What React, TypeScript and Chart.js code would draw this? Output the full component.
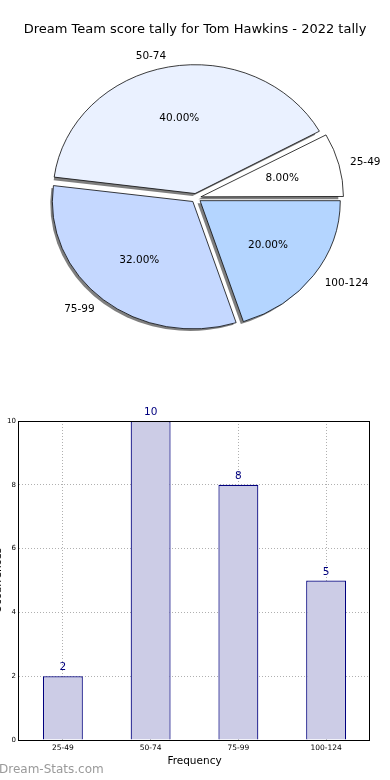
import React, { useEffect, useRef } from "react";
import { Chart, registerables } from "chart.js";

Chart.register(...registerables);

const FONT = "DejaVu Sans";

const TITLE = "Dream Team score tally for Tom Hawkins - 2022 tally";
// Pie slices in clockwise order starting at "east" (matplotlib draws them counter-clockwise)
const pieLabels = ["100-124", "75-99", "50-74", "25-49"];
const piePercents = [20, 32, 40, 8];
const pieColors = ["#b4d5ff", "#c5d8ff", "#eaf1ff", "#ffffff"];

const barCategories = ["25-49", "50-74", "75-99", "100-124"];
const barValues = [2, 10, 8, 5];
const yMin = 0;
const yMax = 10;
const yStep = 2;
const X_TITLE = "Frequency";
const Y_TITLE = "Occurrences";
const WATERMARK = "Dream-Stats.com";

const SY = 0.907; // vertical squash of the (non-equal-aspect) pie
const OFFSET = 5; // explode distance in px (Chart.js divides arc offset by 4)

const piePlugin = {
  id: "piePlugin",
  beforeDatasetsDraw(chart: any) {
    const ctx = chart.ctx;
    const arcs = chart.getDatasetMeta(0).data;
    const cx = arcs[0].x;
    const cy = arcs[0].y;
    // shadows
    ctx.save();
    ctx.translate(-2.5, 2.5);
    ctx.translate(cx, cy);
    ctx.scale(1, SY);
    ctx.translate(-cx, -cy);
    ctx.fillStyle = "rgba(0,0,0,0.5)";
    arcs.forEach((arc: any) => {
      const a = (arc.startAngle + arc.endAngle) / 2;
      const ox = arc.x + Math.cos(a) * OFFSET;
      const oy = arc.y + Math.sin(a) * OFFSET;
      ctx.beginPath();
      ctx.moveTo(ox, oy);
      ctx.arc(ox, oy, arc.outerRadius, arc.startAngle, arc.endAngle);
      ctx.closePath();
      ctx.fill();
    });
    ctx.restore();
    ctx.save();
    ctx.translate(cx, cy);
    ctx.scale(1, SY);
    ctx.translate(-cx, -cy);
  },
  afterDatasetsDraw(chart: any) {
    const ctx = chart.ctx;
    ctx.restore();
    const arcs = chart.getDatasetMeta(0).data;
    ctx.save();
    ctx.fillStyle = "#000";
    ctx.font = `10.5px "${FONT}"`;
    ctx.textBaseline = "middle";
    arcs.forEach((arc: any, i: number) => {
      const a = (arc.startAngle + arc.endAngle) / 2;
      const dx = Math.cos(a);
      const dy = Math.sin(a);
      const r = arc.outerRadius;
      const lr = OFFSET + 1.1 * r;
      const lx = arc.x + dx * lr;
      const ly = arc.y + dy * lr * SY;
      ctx.textAlign = dx > 0 ? "left" : "right";
      ctx.fillText(pieLabels[i], lx, ly);
      const pr = OFFSET + 0.6 * r;
      ctx.textAlign = "center";
      ctx.fillText(piePercents[i].toFixed(2) + "%", arc.x + dx * pr, arc.y + dy * pr * SY);
    });
    ctx.font = `13px "${FONT}"`;
    ctx.textAlign = "center";
    ctx.fillText(TITLE, 195, 30);
    ctx.restore();
  },
};

const barPlugin = {
  id: "barPlugin",
  afterDatasetsDraw(chart: any) {
    const ctx = chart.ctx;
    const meta = chart.getDatasetMeta(0);
    ctx.save();
    ctx.fillStyle = "#00007f";
    ctx.font = `10.5px "${FONT}"`;
    ctx.textAlign = "center";
    ctx.textBaseline = "middle";
    meta.data.forEach((bar: any, i: number) => {
      ctx.fillText(String(barValues[i]), bar.x, bar.y - 8.5);
    });
    ctx.restore();
  },
  afterDraw(chart: any) {
    const ctx = chart.ctx;
    const { left, top, right, bottom } = chart.chartArea;
    ctx.save();
    ctx.strokeStyle = "#000";
    ctx.lineWidth = 1;
    ctx.strokeRect(Math.round(left) - 0.5, Math.round(top) + 0.5, Math.round(right - left), Math.round(bottom - top));
    // y title (mostly clipped by the page edge, as in the reference)
    ctx.fillStyle = "#000";
    ctx.font = `10.5px "${FONT}"`;
    ctx.translate(0.5, (top + bottom) / 2);
    ctx.rotate(-Math.PI / 2);
    ctx.textAlign = "center";
    ctx.textBaseline = "alphabetic";
    ctx.fillText(Y_TITLE, 0, 0);
    ctx.restore();
    ctx.save();
    ctx.fillStyle = "#9a9a9a";
    ctx.font = `12px "${FONT}"`;
    ctx.textAlign = "left";
    ctx.textBaseline = "middle";
    ctx.fillText(WATERMARK, -1, 390);
    ctx.restore();
  },
};

export default function App() {
  const pieRef = useRef<HTMLCanvasElement>(null);
  const barRef = useRef<HTMLCanvasElement>(null);

  useEffect(() => {
    const pie = new Chart(pieRef.current as HTMLCanvasElement, {
      type: "pie",
      data: {
        labels: pieLabels,
        datasets: [
          {
            data: piePercents,
            backgroundColor: pieColors,
            borderColor: "#000",
            borderWidth: 0.8,
            offset: OFFSET * 4,
            clip: false,
          } as any,
        ],
      },
      options: {
        animation: false,
        responsive: false,
        maintainAspectRatio: false,
        rotation: 90,
        radius: 140,
        layout: { padding: { left: 2, right: 0, top: 16, bottom: 0 } },
        plugins: { legend: { display: false }, tooltip: { enabled: false } },
      } as any,
      plugins: [piePlugin],
    });

    const bar = new Chart(barRef.current as HTMLCanvasElement, {
      type: "bar",
      data: {
        labels: barCategories,
        datasets: [
          {
            data: barValues,
            backgroundColor: "#ccccE6",
            borderColor: "#00007f",
            borderWidth: 1.2,
            barPercentage: 0.455,
            categoryPercentage: 1,
          },
        ],
      },
      options: {
        animation: false,
        responsive: false,
        maintainAspectRatio: false,
        layout: { padding: { top: 41, right: 20, left: 0, bottom: 0 } },
        plugins: { legend: { display: false }, tooltip: { enabled: false } },
        scales: {
          x: {
            grid: { offset: false, color: "#b0b0b0", drawTicks: false },
            border: { display: false, dash: [1, 2] },
            ticks: { font: { family: FONT, size: 7.5 }, color: "#000", padding: 4 },
            title: {
              display: true,
              text: X_TITLE,
              color: "#000",
              font: { family: FONT, size: 10.5 },
              padding: { top: 0, bottom: 12.7 },
            },
            afterFit(s: any) {
              s.height = 40;
            },
          },
          y: {
            min: yMin,
            max: yMax,
            ticks: { stepSize: yStep, font: { family: FONT, size: 7 }, color: "#000", padding: 3 },
            grid: { color: "#b0b0b0", drawTicks: false },
            border: { display: false, dash: [1, 2] },
            afterFit(s: any) {
              s.width = 19;
            },
          },
        },
      } as any,
      plugins: [barPlugin],
    });

    return () => {
      pie.destroy();
      bar.destroy();
    };
  }, []);

  return (
    <div style={{ position: "fixed", left: 0, top: 0, width: 390, height: 780, background: "#fff" }}>
      <canvas
        ref={pieRef}
        width={390}
        height={380}
        style={{ position: "absolute", left: 0, top: 0, width: 390, height: 380 }}
      />
      <canvas
        ref={barRef}
        width={390}
        height={400}
        style={{ position: "absolute", left: 0, top: 380, width: 390, height: 400 }}
      />
    </div>
  );
}
